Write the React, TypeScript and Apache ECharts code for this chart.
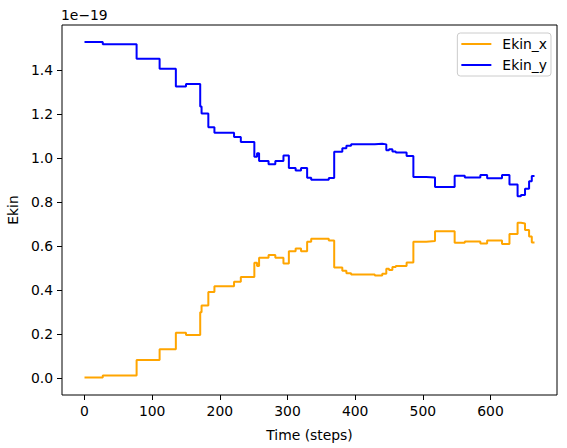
import React, { useEffect, useRef } from "react";
import * as echarts from "echarts";

// Step change points (time steps) and values (in units of 1e-19)
const stepsX = [0, 27, 77, 111, 135, 150, 171, 173, 183, 192, 221, 231, 251, 255, 258, 272, 282, 294, 302, 312, 320, 329, 335, 361, 369, 381, 387, 394, 429, 440, 446, 450, 455, 460, 476, 486, 505, 518, 547, 562, 585, 595, 617, 628, 640, 645, 651, 657, 661, 665];

const ekinX = [0.003, 0.013, 0.083, 0.132, 0.207, 0.197, 0.300, 0.330, 0.392, 0.418, 0.438, 0.460, 0.524, 0.510, 0.547, 0.560, 0.547, 0.521, 0.577, 0.589, 0.577, 0.620, 0.633, 0.626, 0.503, 0.488, 0.477, 0.471, 0.467, 0.475, 0.497, 0.492, 0.505, 0.510, 0.526, 0.620, 0.623, 0.667, 0.615, 0.621, 0.612, 0.626, 0.610, 0.655, 0.706, 0.703, 0.673, 0.644, 0.616, 0.616];

const ekinY = [1.527, 1.517, 1.451, 1.405, 1.325, 1.336, 1.234, 1.202, 1.140, 1.115, 1.095, 1.073, 1.006, 1.022, 0.987, 0.972, 0.986, 1.012, 0.955, 0.943, 0.955, 0.911, 0.901, 0.909, 1.029, 1.044, 1.056, 1.062, 1.065, 1.062, 1.035, 1.040, 1.030, 1.025, 1.009, 0.914, 0.912, 0.868, 0.920, 0.912, 0.923, 0.908, 0.923, 0.880, 0.827, 0.832, 0.860, 0.894, 0.918, 0.918];

const xTicks = [0, 100, 200, 300, 400, 500, 600];
const yTicks = [0, 0.2, 0.4, 0.6, 0.8, 1.0, 1.2, 1.4];

const FONT = "DejaVu Sans";
const FS = 13.9;

export default function App() {
  const ref = useRef<HTMLDivElement>(null);
  useEffect(() => {
    if (!ref.current) return;
    const chart = echarts.init(ref.current, undefined, { renderer: "svg" });
    const tick = { show: true, inside: false, length: 5, lineStyle: { color: "#000", width: 1 } };
    chart.setOption({
      animation: false,
      backgroundColor: "#fff",
      textStyle: { fontFamily: FONT },
      grid: {
        left: 62,
        right: 10,
        top: 25,
        bottom: 53,
        containLabel: false,
        outerBoundsMode: "none",
        show: true,
        borderColor: "#000",
        borderWidth: 1,
        backgroundColor: "transparent",
      },
      legend: {
        orient: "vertical",
        right: 16,
        top: 33,
        padding: [4, 4, 4, 4],
        icon: "rect",
        itemWidth: 30,
        itemHeight: 2,
        itemGap: 7,
        borderColor: "#cccccc",
        borderWidth: 1,
        borderRadius: 3,
        backgroundColor: "rgba(255,255,255,0.8)",
        textStyle: { fontFamily: FONT, fontSize: FS, color: "#000", padding: [0, 0, 0, 6] },
        data: ["Ekin_x", "Ekin_y"],
      },
      xAxis: {
        type: "value",
        min: -33.25,
        max: 698.25,
        splitLine: { show: false },
        axisLine: { show: false, onZero: false },
        axisTick: { ...tick, customValues: xTicks },
        axisLabel: {
          customValues: xTicks,
          margin: 9,
          color: "#000",
          fontFamily: FONT,
          fontSize: FS,
          formatter: (v: number) => String(Math.round(v)),
        },
        name: "Time (steps)",
        nameLocation: "middle",
        nameGap: 33,
        nameTextStyle: { color: "#000", fontFamily: FONT, fontSize: FS },
      },
      yAxis: {
        type: "value",
        min: -0.076,
        max: 1.604,
        splitLine: { show: false },
        axisLine: { show: false, onZero: false },
        axisTick: { ...tick, customValues: yTicks },
        axisLabel: {
          customValues: yTicks,
          margin: 9,
          color: "#000",
          fontFamily: FONT,
          fontSize: FS,
          formatter: (v: number) => v.toFixed(1),
        },
        name: "Ekin",
        nameLocation: "middle",
        nameRotate: 90,
        nameGap: 38,
        nameTextStyle: { color: "#000", fontFamily: FONT, fontSize: FS },
      },
      graphic: [
        {
          type: "text",
          left: 61,
          top: 8,
          style: { text: "1e\u221219", fontFamily: FONT, fontSize: FS, fill: "#000" },
        },
      ],
      series: [
        {
          name: "Ekin_x",
          type: "line",
          step: "end",
          symbol: "none",
          data: stepsX.map((x, i) => [x, ekinX[i]]),
          lineStyle: { color: "#FFA500", width: 2 },
          itemStyle: { color: "#FFA500" },
        },
        {
          name: "Ekin_y",
          type: "line",
          step: "end",
          symbol: "none",
          data: stepsX.map((x, i) => [x, ekinY[i]]),
          lineStyle: { color: "#0000FF", width: 2 },
          itemStyle: { color: "#0000FF" },
        },
      ],
    });
    return () => chart.dispose();
  }, []);
  return (
    <div
      ref={ref}
      style={{ position: "absolute", left: 0, top: 0, width: 567, height: 448 }}
    />
  );
}
